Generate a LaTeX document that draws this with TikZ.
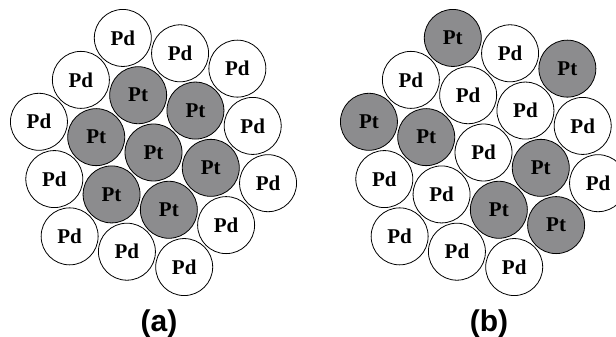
\documentclass[tikz,border=0pt]{standalone}
\usepackage{fontspec}
\setmainfont{Liberation Serif}
\newfontfamily\labfont{Liberation Sans}
\definecolor{ptgray}{RGB}{140,140,142}
\begin{document}
\begin{tikzpicture}[x=1pt,y=1pt,
  atom/.style={circle,draw=black,line width=0.8pt,minimum size=57pt,inner sep=0pt,
    font=\bfseries\fontsize{21}{21}\selectfont},
  lab/.style={font=\labfont\bfseries\fontsize{30}{30}\selectfont,anchor=base}]
\useasboundingbox (0,0) rectangle (616,337);
\clip (0,0) rectangle (616,337);
\def\dd{59.3}
\def\de{102.7}
\def\df{118.6}
% ---------- panel (a)
\coordinate (ca) at (153.5,184.5);
\node[atom,fill=ptgray] (a0) at (ca) {Pt};
\foreach \ang [count=\i] in {-15,45,105,165,225,285}
  \node[atom,fill=ptgray] (a1\i) at ([shift={(\ang:\dd)}]ca) {Pt};
\foreach \ang [count=\i] in {-15,45,105,165,225,285}
  \node[atom,fill=white] (a2\i) at ([shift={(\ang:\df)}]ca) {Pd};
\foreach \ang [count=\i] in {15,75,135,195,255,315}
  \node[atom,fill=white] (a3\i) at ([shift={(\ang:\de)}]ca) {Pd};
% ---------- panel (b)
\coordinate (cb) at (483.5,184.5);
\node[atom,fill=white] (b0) at (cb) {Pd};
\foreach \ang/\c/\t [count=\i] in {-15/ptgray/Pt,45/white/Pd,105/white/Pd,165/ptgray/Pt,225/white/Pd,285/ptgray/Pt}
  \node[atom,fill=\c] (b1\i) at ([shift={(\ang:\dd)}]cb) {\t};
\foreach \ang/\c/\t [count=\i] in {-15/white/Pd,45/ptgray/Pt,105/ptgray/Pt,165/ptgray/Pt,225/white/Pd,285/white/Pd}
  \node[atom,fill=\c] (b2\i) at ([shift={(\ang:\df)}]cb) {\t};
\foreach \ang/\c/\t [count=\i] in {15/white/Pd,75/white/Pd,135/white/Pd,195/white/Pd,255/white/Pd,315/ptgray/Pt}
  \node[atom,fill=\c] (b3\i) at ([shift={(\ang:\de)}]cb) {\t};
% ---------- labels
\node[lab] (la) at (159,5) {(a)};
\node[lab] (lb) at (489,5) {(b)};
\end{tikzpicture}
\end{document}
